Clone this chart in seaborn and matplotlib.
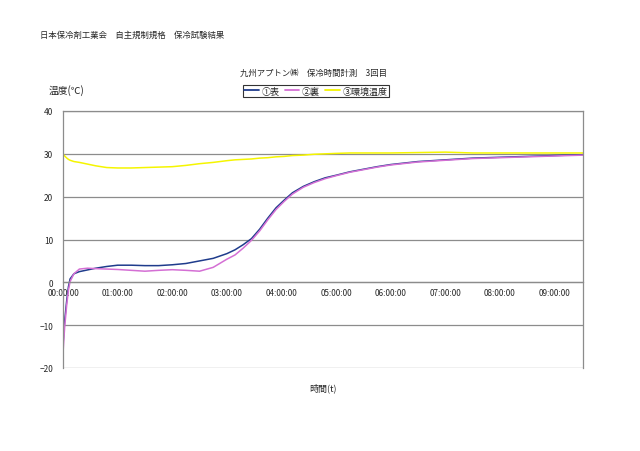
import matplotlib
matplotlib.use("Agg")
import matplotlib.pyplot as plt
import seaborn as sns
import pandas as pd
from matplotlib.lines import Line2D

sns.set_theme(style="white")
plt.rcParams['font.family'] = ['Noto Sans CJK JP', 'DejaVu Sans']

# ---- data (time in hours) ----
hours = [0, 0.03, 0.07, 0.1, 0.13, 0.2, 0.3, 0.45, 0.6, 0.8, 1.0, 1.25, 1.5, 1.75,
         2.0, 2.25, 2.5, 2.75, 3.0, 3.15, 3.3, 3.45, 3.6, 3.75, 3.9, 4.05, 4.2,
         4.4, 4.6, 4.8, 5.0, 5.25, 5.5, 5.75, 6.0, 6.5, 7.0, 7.5, 8.0, 8.5, 9.0, 9.52]
front = [-14.5, -9.0, -4.0, -1.0, 0.8, 2.0, 2.5, 2.9, 3.3, 3.7, 4.0, 4.0, 3.9, 3.9,
         4.1, 4.4, 5.0, 5.6, 6.7, 7.6, 8.8, 10.2, 12.4, 15.0, 17.4, 19.2, 20.9,
         22.4, 23.5, 24.4, 25.0, 25.8, 26.4, 27.0, 27.5, 28.2, 28.6, 29.0, 29.2, 29.4, 29.6, 29.8]
back = [-16.5, -10.5, -5.0, -1.8, 0.2, 2.0, 3.1, 3.3, 3.2, 3.1, 3.0, 2.8, 2.6, 2.8,
        2.95, 2.8, 2.6, 3.5, 5.4, 6.4, 8.0, 9.8, 12.0, 14.6, 17.0, 18.9, 20.6,
        22.2, 23.3, 24.2, 24.9, 25.7, 26.3, 26.9, 27.4, 28.1, 28.5, 28.9, 29.1, 29.3, 29.5, 29.7]
ambient = [30.0, 29.5, 29.0, 28.7, 28.5, 28.2, 28.0, 27.6, 27.2, 26.8, 26.7, 26.7, 26.8, 26.9,
           27.0, 27.3, 27.7, 28.0, 28.4, 28.6, 28.7, 28.8, 29.0, 29.1, 29.3, 29.4, 29.6,
           29.7, 29.9, 30.0, 30.1, 30.2, 30.2, 30.2, 30.2, 30.3, 30.4, 30.2, 30.2, 30.2, 30.2, 30.2]
series_names = ['①表', '②裏', '③環境温度']
series_colors = ['#1f3c8c', '#d46fd4', '#f5f500']
tick_hours = [0, 1, 2, 3, 4, 5, 6, 7, 8, 9]
tick_labels = ['00:00:00', '01:00:00', '02:00:00', '03:00:00', '04:00:00',
               '05:00:00', '06:00:00', '07:00:00', '08:00:00', '09:00:00']
y_ticks = [-20, -10, 0, 10, 20, 30, 40]

df = pd.DataFrame({
    'time': hours * 3,
    'temp': front + back + ambient,
    'series': [series_names[0]] * len(hours) + [series_names[1]] * len(hours) + [series_names[2]] * len(hours),
})

fig = plt.figure(figsize=(6.4, 4.52), dpi=100)
ax = fig.add_axes([63 / 640, 1 - 369 / 452, 520 / 640, 257 / 452])

grid_c = '#8c8c8c'
for yv in y_ticks:
    ax.axhline(yv, color=grid_c, lw=0.9, zorder=0)

sns.lineplot(data=df, x='time', y='temp', hue='series', hue_order=series_names,
             palette=dict(zip(series_names, series_colors)), ax=ax, lw=1.1,
             legend=False, estimator=None, sort=False)

ax.set_xlim(0, 9.52)
ax.set_ylim(-20, 40)
ax.set_yticks(y_ticks)
ax.set_xticks(tick_hours)
ax.set_xticklabels(tick_labels)

for s in ['left', 'right', 'top', 'bottom']:
    ax.spines[s].set_color(grid_c)
    ax.spines[s].set_linewidth(0.9)
ax.spines['bottom'].set_position(('data', 0))
ax.tick_params(axis='x', direction='in', length=3, color=grid_c, labelsize=5.8, pad=4)
ax.tick_params(axis='y', length=0, labelsize=6, pad=7)

ax.set_xlabel('時間(t)', fontsize=6.5)
ax.xaxis.set_label_coords(0.5, -0.055)
ax.set_ylabel('温度(℃)', rotation=0, fontsize=7)
ax.yaxis.set_label_coords(0.006, 1.062)

fig.text(40 / 640, 1 - 35 / 452, '日本保冷剤工業会　自主規制規格　保冷試験結果', fontsize=6, ha='left', va='center')
fig.text(314 / 640, 1 - 73 / 452, '九州アプトン㈱　保冷時間計測　3回目', fontsize=6, ha='center', va='center')

handles = [Line2D([0], [0], color=c, lw=1.3) for c in series_colors]
leg = fig.legend(handles, series_names, loc='center', bbox_to_anchor=(316 / 640, 1 - 92 / 452),
                 ncol=3, fontsize=6.5, frameon=True, fancybox=False, handlelength=1.6,
                 columnspacing=0.6, handletextpad=0.3, borderpad=0.2, borderaxespad=0)
leg.get_frame().set_edgecolor('black')
leg.get_frame().set_linewidth(0.8)

fig.savefig('out.png', dpi=100)
